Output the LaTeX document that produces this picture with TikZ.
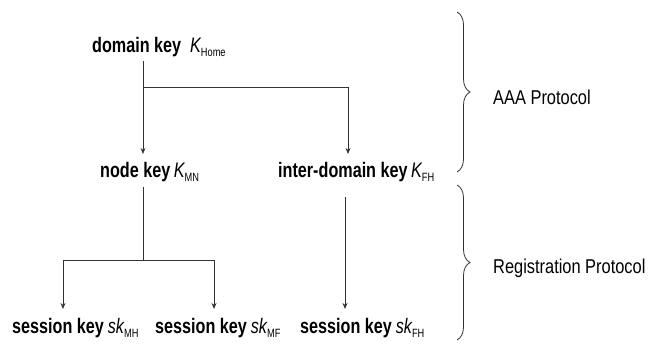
\documentclass[tikz,border=0pt]{standalone}
\usepackage{fontspec}
\setmainfont{Liberation Sans}
\newfontfamily\keyfont[FakeStretch=0.77]{Liberation Sans}
\newfontfamily\protofont[FakeStretch=0.82]{Liberation Sans}
\usetikzlibrary{arrows.meta,decorations.pathreplacing}

% key label: bold words, italic symbol, small lowered index
\newcommand\keylbl[4][\,]{{\bfseries #2}#1{\mdseries\itshape #3}\raisebox{-4.5pt}{\mdseries\upshape\fontsize{12}{12}\selectfont #4}}

\tikzset{
  keybox/.style={anchor=west, inner sep=0pt, font=\keyfont\fontsize{21}{23}\selectfont},
  protobox/.style={anchor=west, inner sep=0pt, font=\protofont\fontsize{20}{22}\selectfont},
  link/.style={draw=black!80, line width=0.8pt},
  arr/.style={link, -{Stealth[length=6pt,width=5pt]}},
  bracebar/.style={draw=black!80, line width=0.8pt, decorate,
    decoration={brace, amplitude=13pt}}
}

\begin{document}
\begin{tikzpicture}[x=1pt, y=-1pt]
  \useasboundingbox (0,0) rectangle (661,349);

  % keys
  \node[keybox] (dk) at (92,47)  {\keylbl[\hspace{9pt}]{domain key}{K}{Home}};
  \node[keybox] (nk) at (100,172) {\keylbl{node key}{K}{MN}};
  \node[keybox] (ik) at (278,172) {\keylbl{inter-domain key}{K}{FH}};
  \node[keybox] (s1) at (12,328)  {\keylbl[\hspace{4pt}]{session key}{sk}{MH}};
  \node[keybox] (s2) at (155,328) {\keylbl[\hspace{4pt}]{session key}{sk}{MF}};
  \node[keybox] (s3) at (300,328) {\keylbl[\hspace{4pt}]{session key}{sk}{FH}};

  % branch points
  \coordinate (ja) at (143,87);
  \coordinate (jb) at (348,87);
  \coordinate (jc) at (143,260);
  \coordinate (jl) at (63,260);
  \coordinate (jr) at (214,260);
  \coordinate (jf) at (345,197);

  % domain key -> node key / inter-domain key
  \draw[link] ([yshift=-4pt]ja |- dk.south) -- (ja);
  \draw[arr] (ja) -- (jb) -- ([yshift=8pt]jb |- nk.north);
  \draw[arr] (ja) -- ([yshift=8pt]ja |- nk.north);

  % node key -> session keys
  \draw[link] ([yshift=-5pt]jc |- nk.south) -- (jc);
  \draw[arr] (jc) -- (jl) -- ([yshift=9pt]jl |- s1.north);
  \draw[arr] (jc) -- (jr) -- ([yshift=9pt]jr |- s2.north);

  % inter-domain key -> session key
  \draw[arr] (jf) -- ([yshift=9pt]jf |- s3.north);

  % protocol braces
  \coordinate (b1t) at (457,12);
  \coordinate (b1b) at (457,172);
  \coordinate (b2t) at (457,185);
  \coordinate (b2b) at (457,340);
  \draw[bracebar] (b1t) -- (b1b);
  \draw[bracebar] (b2t) -- (b2b);

  \node[protobox] (aaa) at (493,97)  {AAA Protocol};
  \node[protobox] (reg) at (493,268) {Registration Protocol};
\end{tikzpicture}
\end{document}
